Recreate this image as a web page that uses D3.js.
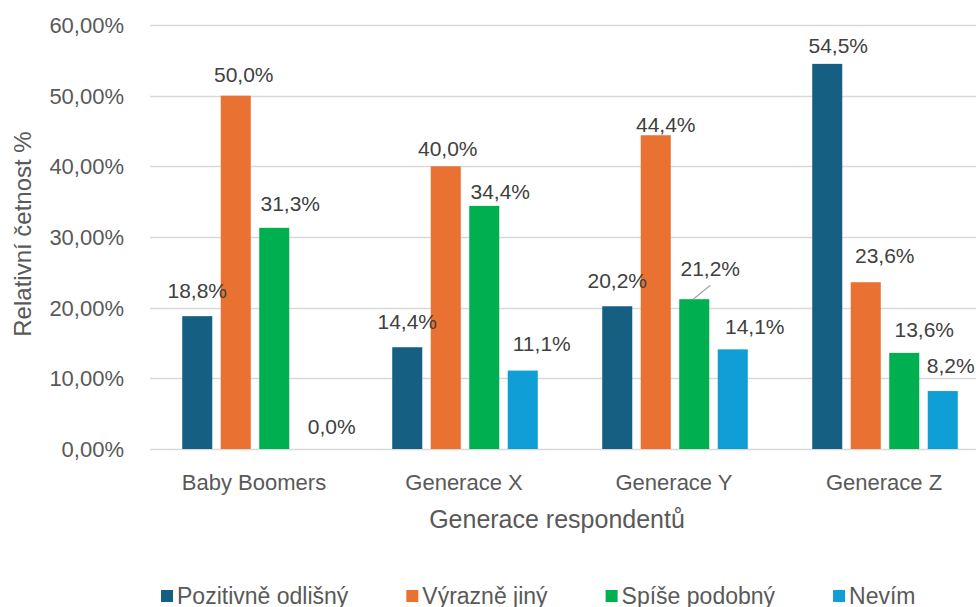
<!DOCTYPE html>
<html>
<head>
<meta charset="utf-8">
<script src="https://cdn.jsdelivr.net/npm/d3@7"></script>
<style>
  body { margin: 0; background: #fff; }
  text { font-family: "Liberation Sans", Arial, sans-serif; }
</style>
</head>
<body>
<div id="chart"></div>
<script>
// data
const categories = ["Baby Boomers", "Generace X", "Generace Y", "Generace Z"];
const series     = ["Pozitivně odlišný", "Výrazně jiný", "Spíše podobný", "Nevím"];
const pozitivne  = [18.8, 14.4, 20.2, 54.5];
const vyrazne    = [50.0, 40.0, 44.4, 23.6];
const spise      = [31.3, 34.4, 21.2, 13.6];
const nevim      = [0.0, 11.1, 14.1, 8.2];
const yTicks     = [0, 10, 20, 30, 40, 50, 60];

const values = [pozitivne, vyrazne, spise, nevim];

// layout
const WIDTH  = 976;
const HEIGHT = 607;
const PLOT   = { left: 150, right: 990, top: 25, bottom: 449 };
const COLORS = ["#156082", "#E97132", "#00B050", "#0F9ED5"];

// manual nudges of the data labels (Excel moved some of them), [dx, dy] per series per category
const LABEL_NUDGE = [
    [[0, -2], [0, -1.5], [0, -2], [11, 5.5]],
    [[8, 3], [2, 6], [10, 13], [19, -3]],
    [[16, 0], [16, 10], [16, -7], [20, 1]],
    [[19, 1], [19, -3], [22, 1], [8, -2]]
];

const svg = d3.select("#chart")
    .append("svg")
    .attr("width", WIDTH)
    .attr("height", HEIGHT);

const x0 = d3.scaleBand().domain(categories).range([PLOT.left, PLOT.right]);
const x1 = d3.scaleBand().domain(series).range([0, x0.bandwidth()])
    .paddingInner(0.22).paddingOuter(0.837);
const y  = d3.scaleLinear().domain([0, 60]).range([PLOT.bottom, PLOT.top]);

// gridlines
svg.append("g")
    .selectAll("line")
    .data(yTicks)
    .join("line")
    .attr("x1", PLOT.left)
    .attr("x2", WIDTH)
    .attr("y1", d => Math.round(y(d)) + 0.5)
    .attr("y2", d => Math.round(y(d)) + 0.5)
    .attr("stroke", "#d9d9d9")
    .attr("stroke-width", 1.3);

// y tick labels
svg.append("g")
    .selectAll("text")
    .data(yTicks)
    .join("text")
    .attr("x", 124)
    .attr("y", d => y(d))
    .attr("dy", "0.36em")
    .attr("text-anchor", "end")
    .attr("font-size", 22)
    .attr("fill", "#595959")
    .text(d => d3.format(".2f")(d).replace(".", ",") + "%");

// bars
const rows = [];
series.forEach((s, si) => {
    categories.forEach((c, ci) => {
        rows.push({ s, si, c, ci, v: values[si][ci] });
    });
});

svg.append("g")
    .selectAll("rect")
    .data(rows)
    .join("rect")
    .attr("x", d => x0(d.c) + x1(d.s))
    .attr("y", d => y(d.v))
    .attr("width", x1.bandwidth())
    .attr("height", d => y(0) - y(d.v))
    .attr("fill", d => COLORS[d.si]);

// data labels
const labelPos = d => {
    const n = LABEL_NUDGE[d.si][d.ci];
    return {
        x: x0(d.c) + x1(d.s) + x1.bandwidth() / 2 + n[0],
        y: y(d.v) - 24 + n[1]
    };
};

// leader line for the moved 21,2% label
svg.append("g")
    .selectAll("line")
    .data(rows.filter(d => d.si === 2 && d.ci === 2))
    .join("line")
    .attr("x1", d => x0(d.c) + x1(d.s) + x1.bandwidth() / 2 - 1)
    .attr("y1", d => y(d.v))
    .attr("x2", d => labelPos(d).x)
    .attr("y2", d => labelPos(d).y + 17)
    .attr("stroke", "#a6a6a6")
    .attr("stroke-width", 1.3);

svg.append("g")
    .selectAll("text")
    .data(rows)
    .join("text")
    .attr("x", d => labelPos(d).x)
    .attr("y", d => labelPos(d).y)
    .attr("dy", "0.36em")
    .attr("text-anchor", "middle")
    .attr("font-size", 21)
    .attr("fill", "#404040")
    .text(d => d3.format(".1f")(d.v).replace(".", ",") + "%");

// category labels
svg.append("g")
    .selectAll("text")
    .data(categories)
    .join("text")
    .attr("x", d => x0(d) + x0.bandwidth() / 2 - 1)
    .attr("y", 482)
    .attr("dy", "0.36em")
    .attr("text-anchor", "middle")
    .attr("font-size", 22)
    .attr("fill", "#595959")
    .text(d => d);

// axis titles
svg.append("text")
    .attr("x", 557)
    .attr("y", 519)
    .attr("dy", "0.36em")
    .attr("text-anchor", "middle")
    .attr("font-size", 25)
    .attr("fill", "#595959")
    .text("Generace respondentů");

svg.append("text")
    .attr("transform", "translate(22,234) rotate(-90)")
    .attr("dy", "0.36em")
    .attr("text-anchor", "middle")
    .attr("font-size", 24)
    .attr("fill", "#595959")
    .text("Relativní četnost %");

// legend
const legend = svg.append("g");
let lx = 161;
series.forEach((s, i) => {
    const item = legend.append("g").attr("transform", `translate(${lx},0)`);
    item.append("rect")
        .attr("x", 0)
        .attr("y", 590)
        .attr("width", 12)
        .attr("height", 12)
        .attr("fill", COLORS[i]);
    const t = item.append("text")
        .attr("x", 16)
        .attr("y", 604)
        .attr("font-size", 23)
        .attr("fill", "#595959")
        .text(s);
    lx += 16 + t.node().getComputedTextLength() + 58;
});
</script>
</body>
</html>
